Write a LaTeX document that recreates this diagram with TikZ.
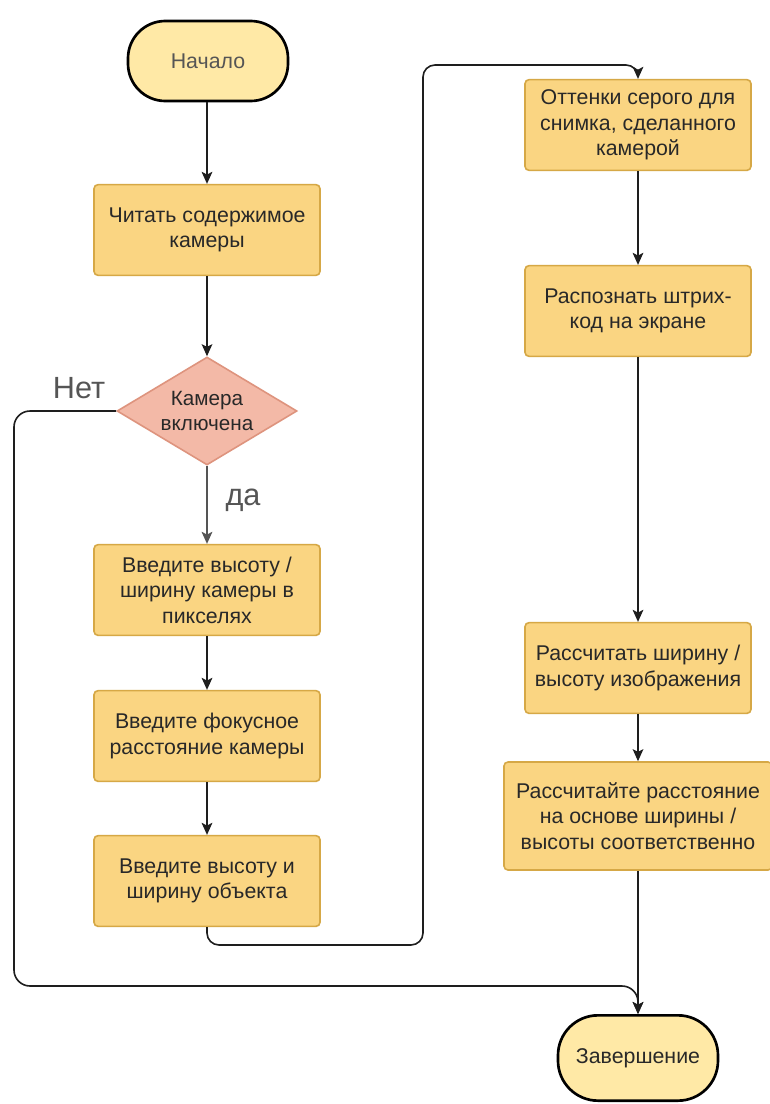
\documentclass[tikz,border=0pt]{standalone}
\usepackage{fontspec}
\setmainfont{Liberation Sans}
\usetikzlibrary{shapes.geometric,arrows.meta}
\definecolor{boxfill}{RGB}{250,213,130}
\definecolor{boxdraw}{RGB}{214,168,70}
\definecolor{termfill}{RGB}{255,233,166}
\definecolor{decfill}{RGB}{243,185,167}
\definecolor{decdraw}{RGB}{222,148,126}
\definecolor{txt}{RGB}{40,40,40}
\definecolor{lbl}{RGB}{85,85,85}
\definecolor{wire}{RGB}{30,30,30}
\tikzset{
  stepbox/.style={rectangle, rounded corners=3pt, draw=boxdraw, line width=1.2pt, fill=boxfill,
    minimum width=169.5pt, minimum height=68pt, align=center, text=txt,
    font=\fontsize{16}{19.2}\selectfont, inner sep=2pt},
  term/.style={rectangle, rounded corners=28pt, draw=black, line width=2pt, fill=termfill,
    minimum width=120pt, minimum height=60pt, align=center, font=\fontsize{16}{19.2}\selectfont},
  decision/.style={diamond, aspect=1.67, draw=decdraw, line width=1.2pt, fill=decfill,
    minimum width=135pt, minimum height=81pt, inner sep=0pt, align=center, text=txt,
    font=\fontsize{15.5}{18.75}\selectfont},
  biglbl/.style={text=lbl, font=\fontsize{23}{26}\selectfont, inner sep=0pt},
  conn/.style={draw=wire, line width=1.2pt, -{Stealth[length=9pt,width=8pt,inset=2pt]}},
}
\begin{document}
\begin{tikzpicture}[x=0.75pt,y=-0.75pt]
\useasboundingbox[fill=white] (0,0) rectangle (770,1104);
% left column
\node[term, text=lbl] (start) at (208,61) {Начало};
\node[stepbox] (read) at (207,230) {Читать содержимое\\камеры};
\node[decision] (cam) at (207,411) {Камера\\включена};
\node[stepbox] (hw) at (207,590) {Введите высоту /\\ширину камеры в\\пикселях};
\node[stepbox] (focal) at (207,736) {Введите фокусное\\расстояние камеры};
\node[stepbox] (obj) at (207,881) {Введите высоту и\\ширину объекта};
% right column
\node[stepbox] (gray) at (638,125) {Оттенки серого для\\снимка, сделанного\\камерой};
\node[stepbox] (bar) at (638,311) {Распознать штрих-\\код на экране};
\node[stepbox] (imgsz) at (638,668) {Рассчитать ширину /\\высоту изображения};
\node[stepbox, minimum width=201pt, minimum height=81pt] (dist) at (638,816) {Рассчитайте расстояние\\на основе ширины /\\высоты соответственно};
\node[term, text=txt, minimum height=64pt, rounded corners=30pt] (finish) at (638,1058) {Завершение};
% labels
\node[biglbl] (no) at (79,388) {Нет};
\node[biglbl] (yes) at (243,500) {да};
% waypoints
\coordinate (o1) at (207,945);
\coordinate (o2) at (423,945);
\coordinate (o3) at (423,65);
\coordinate (o4) at (638,65);
\coordinate (n1) at (14,411);
\coordinate (n2) at (14,986);
\coordinate (n3) at (638,986);
% connectors
\draw[conn] (start.south -| read.north) -- (read);
\draw[conn] (read) -- (cam);
\draw[conn, draw=lbl] (cam) -- (hw);
\draw[conn] (hw) -- (focal);
\draw[conn] (focal) -- (obj);
\draw[conn, rounded corners=9pt] (obj.south) -- (o1) -- (o2) -- (o3) -- (o4) -- (gray.north);
\draw[conn] (gray) -- (bar);
\draw[conn] (bar) -- (imgsz);
\draw[conn] (imgsz) -- (dist);
\draw[conn] (dist) -- (finish);
\draw[conn, rounded corners=12pt] (cam.west) -- (n1) -- (n2) -- (n3) -- (finish.north);
\end{tikzpicture}
\end{document}
